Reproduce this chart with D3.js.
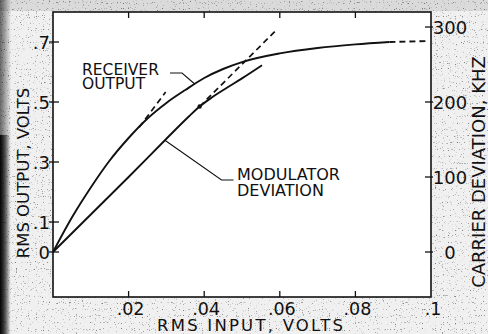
<!DOCTYPE html>
<html>
<head>
<meta charset="utf-8">
<script src="https://cdn.jsdelivr.net/npm/d3@7"></script>
<style>
  html, body { margin: 0; padding: 0; background: #fff; }
  svg { display: block; }
  text { font-family: "DejaVu Sans", sans-serif; fill: #111; }
</style>
</head>
<body>
<script>
// Tick values and their printed labels
const xTicks = [0.02, 0.04, 0.06, 0.08, 0.1];
const xTickLabels = [".02", ".04", ".06", ".08", ".1"];
const leftTicks = [0, 0.1, 0.3, 0.5, 0.7];
const leftTickLabels = ["0", ".1", ".3", ".5", ".7"];
const rightTicks = [0, 100, 200, 300];
const rightTickLabels = ["0", "100", "200", "300"];

// Receiver output (RMS volts) versus RMS input (volts)
const rxInput  = [0, 0.005, 0.01, 0.015, 0.02, 0.025, 0.03, 0.035, 0.04, 0.045, 0.05, 0.06, 0.07, 0.08, 0.089];
const rxOutput = [0, 0.115, 0.215, 0.305, 0.38, 0.445, 0.497, 0.54, 0.58, 0.61, 0.633, 0.662, 0.68, 0.692, 0.70];
// extrapolated tail of the receiver curve (dashed)
const rxTailInput  = [0.089, 0.099];
const rxTailOutput = [0.70, 0.703];
// linear extension of the receiver response (dashed)
const rxLinInput  = [0.0228, 0.0298];
const rxLinOutput = [0.416, 0.533];

// Modulator deviation (kHz) versus RMS input (volts)
const modInput = [0, 0.01, 0.02, 0.03, 0.036, 0.0388, 0.042, 0.046, 0.05, 0.0553];
const modKHz   = [0, 50, 100, 151, 181, 194, 206, 219, 231.5, 249];
// linear extension of the modulator response (dashed) and its marked point
const modLinInput = [0.0388, 0.0587];
const modLinKHz   = [194, 294];
const modMarkInput = 0.0388;
const modMarkKHz = 194;

const W = 488, H = 334;
const plot = { left: 53, right: 431, top: 12, bottom: 297 };

const x = d3.scaleLinear().domain([0, 0.1]).range([plot.left, plot.right]);
const yL = d3.scaleLinear().domain([-0.15, 0.8]).range([plot.bottom, plot.top]);
const yR = d3.scaleLinear().domain([-60, 320]).range([plot.bottom, plot.top]);

const svg = d3.select("body").append("svg").attr("width", W).attr("height", H);
const defs = svg.append("defs");

// paper grain around the plot
const f = defs.append("filter").attr("id", "grain")
  .attr("filterUnits", "userSpaceOnUse")
  .attr("x", 0).attr("y", 0).attr("width", W).attr("height", H)
  .attr("color-interpolation-filters", "sRGB");
f.append("feTurbulence").attr("type", "fractalNoise").attr("baseFrequency", 0.85)
  .attr("numOctaves", 1).attr("seed", 11).attr("result", "n");
f.append("feColorMatrix").attr("in", "n").attr("type", "matrix")
  .attr("values", "0 0 0 0 0.5  0 0 0 0 0.5  0 0 0 0 0.5  7 0 0 0 -4.45");

const edge = defs.append("linearGradient").attr("id", "edge")
  .attr("x1", 0).attr("x2", 1).attr("y1", 0).attr("y2", 0);
edge.append("stop").attr("offset", 0).attr("stop-color", "#000").attr("stop-opacity", 0.95);
edge.append("stop").attr("offset", 0.45).attr("stop-color", "#000").attr("stop-opacity", 0.55);
edge.append("stop").attr("offset", 1).attr("stop-color", "#000").attr("stop-opacity", 0);

svg.append("rect").attr("width", W).attr("height", H).attr("fill", "#f0f0f0");
svg.append("rect").attr("width", W).attr("height", H).attr("fill", "#000").attr("filter", "url(#grain)");
svg.append("rect").attr("width", W).attr("height", plot.top - 1).attr("fill", "#000").attr("opacity", 0.09);
svg.append("rect").attr("x", 0).attr("y", 0).attr("width", 11).attr("height", H)
  .attr("fill", "url(#edge)").attr("opacity", 0.6);
svg.append("rect").attr("x", 0).attr("y", 135).attr("width", 10).attr("height", H - 135)
  .attr("fill", "url(#edge)");

// white plotting field with frame
svg.append("rect")
  .attr("x", plot.left).attr("y", plot.top)
  .attr("width", plot.right - plot.left).attr("height", plot.bottom - plot.top)
  .attr("fill", "#fff").attr("stroke", "#111").attr("stroke-width", 1.6);

const tickStyle = s => s.attr("stroke", "#111").attr("stroke-width", 1.3);

// bottom & top ticks (inward)
const g = svg.append("g");
xTicks.slice(0, 4).forEach(v => {
  g.append("line").attr("x1", x(v)).attr("x2", x(v)).attr("y1", plot.bottom).attr("y2", plot.bottom - 6).call(tickStyle);
  g.append("line").attr("x1", x(v)).attr("x2", x(v)).attr("y1", plot.top).attr("y2", plot.top + 6).call(tickStyle);
});
xTicks.forEach((v, i) => {
  g.append("text").attr("x", x(v) + 2).attr("y", 314.5)
    .attr("text-anchor", "middle").attr("font-size", 17.5).text(xTickLabels[i]);
});

// left axis ticks and labels
leftTicks.forEach((v, i) => {
  g.append("line").attr("x1", plot.left - 4).attr("x2", plot.left + 6)
    .attr("y1", yL(v)).attr("y2", yL(v)).call(tickStyle);
  g.append("text").attr("x", 50).attr("y", yL(v) + 7)
    .attr("text-anchor", "end").attr("font-size", 18).text(leftTickLabels[i]);
});

// right axis ticks and labels
rightTicks.forEach((v, i) => {
  g.append("line").attr("x1", plot.right - 6).attr("x2", plot.right + 2)
    .attr("y1", yR(v)).attr("y2", yR(v)).call(tickStyle);
  g.append("text").attr("x", 450).attr("y", yR(v) + 7)
    .attr("text-anchor", "middle").attr("font-size", 18).text(rightTickLabels[i]);
});

// axis titles
svg.append("text").attr("x", 250).attr("y", 331).attr("font-size", 16.5)
  .attr("text-anchor", "middle").attr("textLength", 186).attr("lengthAdjust", "spacing")
  .text("RMS  INPUT, VOLTS");
svg.append("text").attr("transform", "translate(28.5,173) rotate(-90)")
  .attr("text-anchor", "middle").attr("font-size", 16.5).text("RMS OUTPUT, VOLTS");
svg.append("text").attr("transform", "translate(485,172) rotate(-90)")
  .attr("text-anchor", "middle").attr("font-size", 18).text("CARRIER DEVIATION, KHZ");

// curves
const zipL = (a, b) => a.map((v, i) => [x(v), yL(b[i])]);
const zipR = (a, b) => a.map((v, i) => [x(v), yR(b[i])]);
const smooth = d3.line().curve(d3.curveMonotoneX);
const straight = d3.line();

const curves = svg.append("g").attr("fill", "none").attr("stroke", "#111").attr("stroke-linecap", "butt");
curves.append("path").attr("d", smooth(zipL(rxInput, rxOutput))).attr("stroke-width", 1.9);
curves.append("path").attr("d", straight(zipL(rxTailInput, rxTailOutput)))
  .attr("stroke-width", 1.9).attr("stroke-dasharray", "6,4");
curves.append("path").attr("d", straight(zipL(rxLinInput, rxLinOutput)))
  .attr("stroke-width", 1.7).attr("stroke-dasharray", "6,4");
curves.append("path").attr("d", smooth(zipR(modInput, modKHz))).attr("stroke-width", 1.9);
curves.append("path").attr("d", straight(zipR(modLinInput, modLinKHz)))
  .attr("stroke-width", 1.7).attr("stroke-dasharray", "6,4");
svg.append("circle").attr("cx", x(modMarkInput)).attr("cy", yR(modMarkKHz)).attr("r", 2.2).attr("fill", "#111");

// point on a series at a given input, by linear interpolation
function at(xs, ys, v) {
  const i = Math.max(1, d3.bisectLeft(xs, v));
  const t = (v - xs[i - 1]) / (xs[i] - xs[i - 1]);
  return ys[i - 1] + t * (ys[i] - ys[i - 1]);
}

// curve labels with leader lines
const ann = svg.append("g");
const rxAnchor = [x(0.0375), yL(at(rxInput, rxOutput, 0.0375))];
ann.append("path").attr("fill", "none").attr("stroke", "#111").attr("stroke-width", 1.1)
  .attr("d", straight([[170, 73], [182, 73], rxAnchor]));
ann.append("text").attr("x", 82).attr("y", 75).attr("font-size", 15.5).text("RECEIVER");
ann.append("text").attr("x", 82).attr("y", 88.5).attr("font-size", 15.5).text("OUTPUT");

const modAnchor = [x(0.0296), yR(at(modInput, modKHz, 0.0296))];
ann.append("path").attr("fill", "none").attr("stroke", "#111").attr("stroke-width", 1.1)
  .attr("d", straight([modAnchor, [221.5, 180], [233.5, 180]]));
ann.append("text").attr("x", 237).attr("y", 179.5).attr("font-size", 16).text("MODULATOR");
ann.append("text").attr("x", 237).attr("y", 195.5).attr("font-size", 16).text("DEVIATION");
</script>
</body>
</html>
